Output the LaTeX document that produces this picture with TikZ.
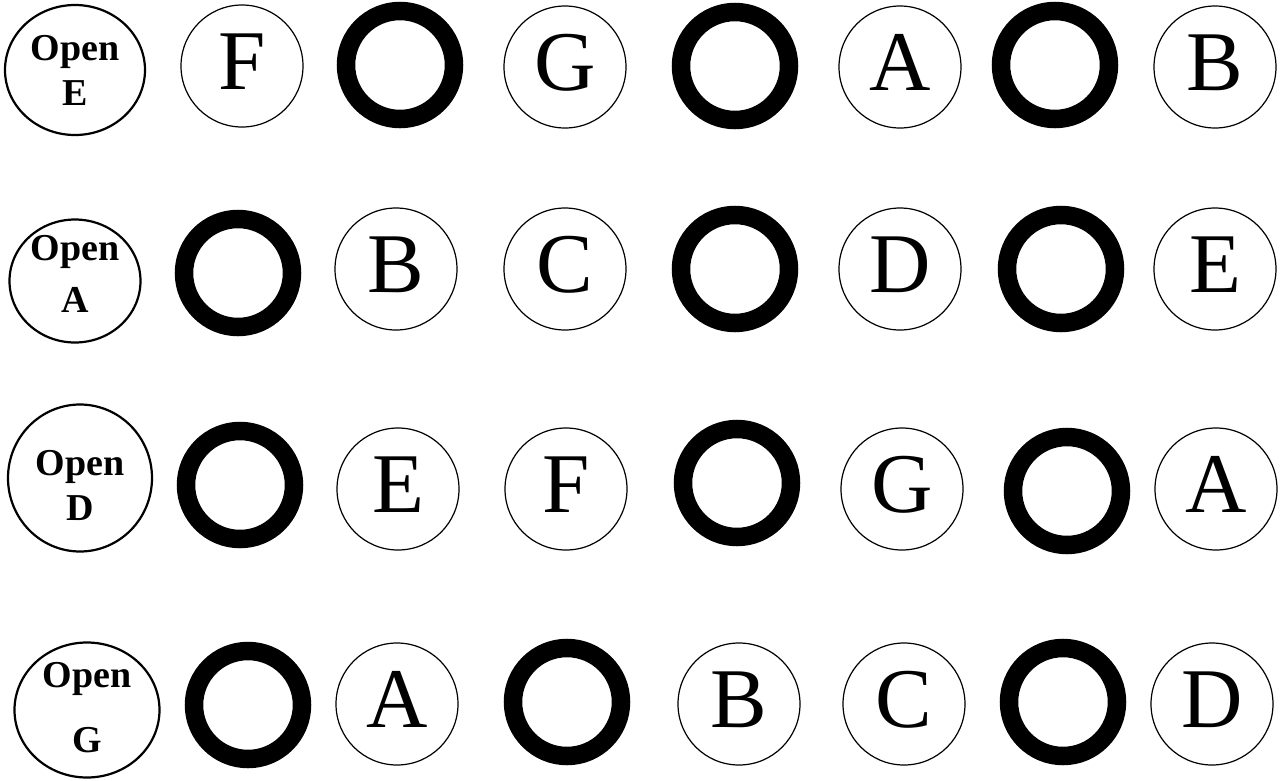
\documentclass[tikz,border=0pt]{standalone}
\usepackage{fontspec}
\setmainfont{Liberation Serif}
\usetikzlibrary{shapes.geometric}
\tikzset{
  note/.style={circle,draw,line width=1.2pt,inner sep=0pt,minimum size=122pt,
              font=\fontsize{85}{85}\selectfont,text height=56pt,text depth=10pt},
  hole/.style={circle,draw,line width=18.5pt,inner sep=0pt,minimum size=108pt},
  openring/.style={ellipse,draw,line width=2.2pt,inner sep=0pt},
  opentxt/.style={align=center,inner sep=0pt,font=\fontsize{38}{39}\selectfont\bfseries},
}
\begin{document}
\begin{tikzpicture}[x=1pt,y=-1pt]
  \useasboundingbox (0,0) rectangle (1283,780);
  % E string
  \node[openring,minimum width=140pt,minimum height=130pt] (oE) at (75,70){};
  \node[opentxt] (tE) at (oE.center){Open\\[6pt]E};
  \node[note] (eF) at (242,66){F};
  \node[hole] (eh1) at (400,65){};
  \node[note] (eG) at (565,67){G};
  \node[hole] (eh2) at (735,66){};
  \node[note] (eA) at (900,67){A};
  \node[hole] (eh3) at (1055,65){};
  \node[note] (eB) at (1215,67){B};
  % A string
  \node[openring,minimum width=131pt,minimum height=123pt] (oA) at (75,281){};
  \node[opentxt] (tA) at (75,274){Open\\[13pt]A};
  \node[hole] (ah1) at (238,273){};
  \node[note] (aB) at (396,269){B};
  \node[note] (aC) at (565,269){C};
  \node[hole] (ah2) at (735,269){};
  \node[note] (aD) at (900,269){D};
  \node[hole] (ah3) at (1061,269){};
  \node[note] (aE) at (1215,269){E};
  % D string
  \node[openring,minimum width=144pt,minimum height=147pt] (oD) at (80,478){};
  \node[opentxt] (tD) at (80,485){Open\\[6pt]D};
  \node[hole] (dh1) at (240,485){};
  \node[note] (dE) at (398,489){E};
  \node[note] (dF) at (566,489){F};
  \node[hole] (dh2) at (737,483){};
  \node[note] (dG) at (902,489){G};
  \node[hole] (dh3) at (1067,491){};
  \node[note] (dA) at (1216,489){A};
  % G string
  \node[openring,minimum width=145pt,minimum height=135pt] (oG) at (87,710){};
  \node[opentxt] (tG) at (87,708){Open\\[26pt]G};
  \node[hole] (gh1) at (248,705){};
  \node[note] (gA) at (397,704){A};
  \node[hole] (gh2) at (567,702){};
  \node[note] (gB) at (739,704){B};
  \node[note] (gC) at (904,704){C};
  \node[hole] (gh3) at (1063,702){};
  \node[note] (gD) at (1212,704){D};
\end{tikzpicture}
\end{document}
